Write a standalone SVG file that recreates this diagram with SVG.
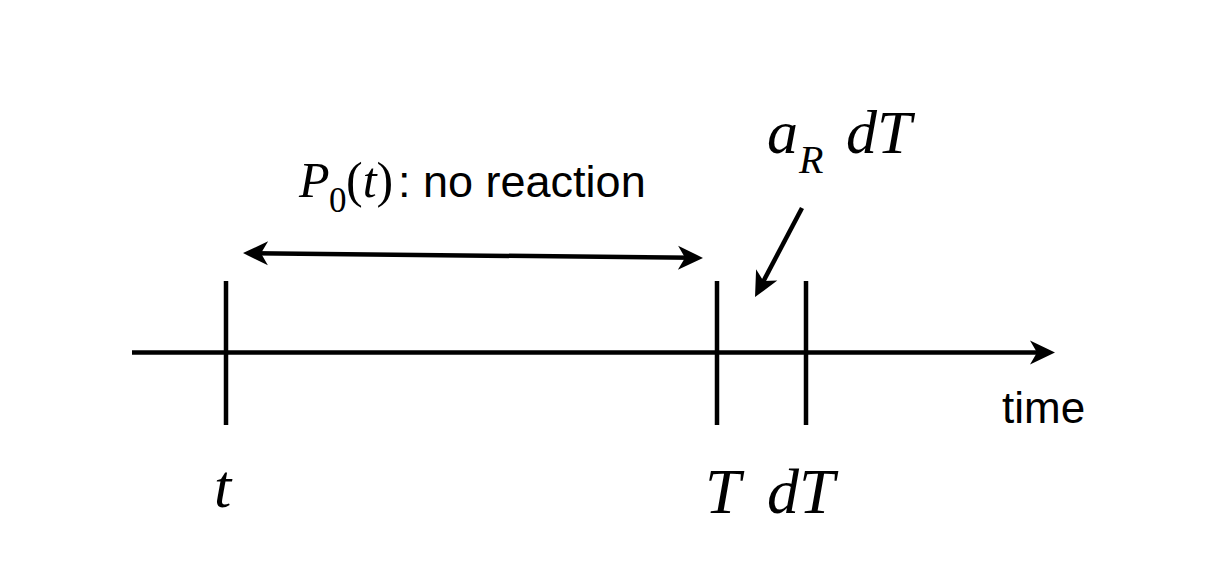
<svg xmlns="http://www.w3.org/2000/svg" width="1209" height="573" viewBox="0 0 1209 573">
<style>
.ln{stroke:#000;stroke-width:4.5;fill:none}
.math{font-family:"Liberation Serif","Times New Roman",serif;font-style:italic;fill:#000}
.up{font-family:"Liberation Serif","Times New Roman",serif;fill:#000}
.sans{font-family:"Liberation Sans",Arial,Helvetica,sans-serif;fill:#000}
</style>
<defs>
<marker id="ah" markerUnits="userSpaceOnUse" viewBox="-28 -14 30 28" refX="-10" refY="0" markerWidth="30" markerHeight="28" orient="auto-start-reverse">
<path d="M0,0 L-25,-12 L-18,0 L-25,12 Z" fill="#000"/>
</marker>
</defs>
<rect width="1209" height="573" fill="#fff"/>
<g id="connectors">
<line class="ln" x1="132" y1="352.5" x2="1045" y2="352.5" marker-end="url(#ah)"/>
<line class="ln" x1="253" y1="253.2" x2="693" y2="257.8" marker-start="url(#ah)" marker-end="url(#ah)"/>
<line class="ln" x1="802" y1="208" x2="759.7" y2="288.2" marker-end="url(#ah)"/>
</g>
<g id="tick-t"><line class="ln" x1="226" y1="281" x2="226" y2="425"/></g>
<g id="tick-T"><line class="ln" x1="717" y1="281" x2="717" y2="425"/></g>
<g id="tick-dT"><line class="ln" x1="806" y1="281" x2="806" y2="425"/></g>
<g id="label-P0">
<text class="math" x="299" y="197" font-size="50">P</text>
<text class="up" x="329" y="212" font-size="35">0</text>
<text class="math" x="346" y="197" font-size="50"><tspan font-style="normal">(</tspan>t<tspan font-style="normal">)</tspan></text>
<text class="sans" x="398" y="197" font-size="45">: no reaction</text>
</g>
<g id="label-aR">
<text class="math" x="767" y="153" font-size="62">a</text>
<text class="math" x="799" y="173" font-size="40">R</text>
<text class="math" x="846" y="153" font-size="62">dT</text>
</g>
<g id="label-time"><text class="sans" x="1002" y="423" font-size="44">time</text></g>
<g id="label-t"><text class="math" x="214" y="507" font-size="62">t</text></g>
<g id="label-T"><text class="math" x="705" y="513" font-size="64">T</text></g>
<g id="label-dT"><text class="math" x="767" y="513" font-size="64">dT</text></g>
</svg>
